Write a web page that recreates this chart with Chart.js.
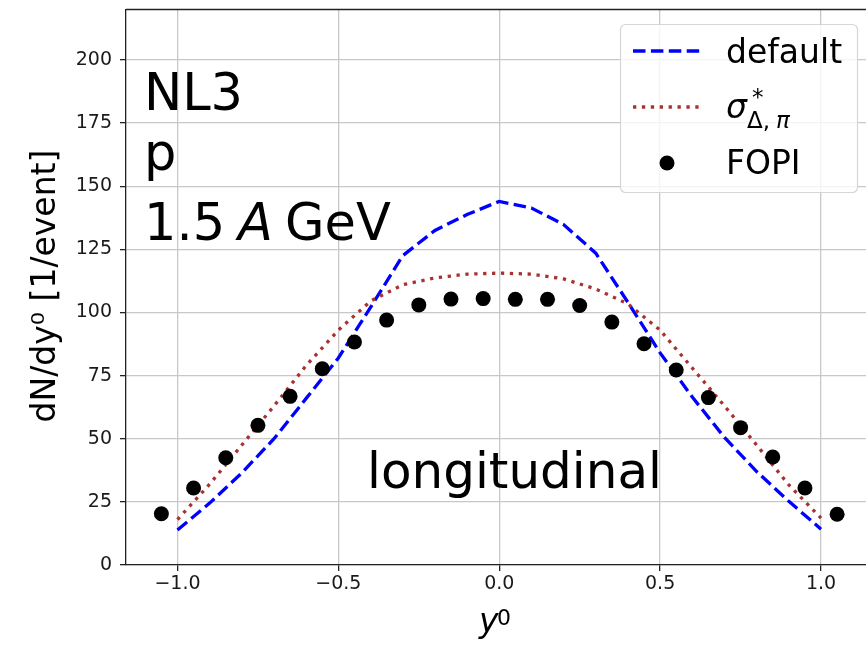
<!DOCTYPE html>
<html>
<head>
<meta charset="utf-8">
<script src="https://cdn.jsdelivr.net/npm/chart.js@4.4.1/dist/chart.umd.min.js"></script>
<style>
  html, body { margin: 0; padding: 0; overflow: hidden; background: #fff; }
  #wrap { width: 880px; height: 646px; }
</style>
</head>
<body>
<div id="wrap"><canvas id="rapidityChart" width="880" height="646"></canvas></div>
<script>
// model curves (transport calc.)
const rapidityModel = [-1.0, -0.9, -0.8, -0.7, -0.6, -0.5, -0.4, -0.3, -0.2, -0.1, 0.0, 0.1, 0.2, 0.3, 0.4, 0.5, 0.6, 0.7, 0.8, 0.9, 1.0];
const defaultValues = [13.9, 24.5, 36.5, 50, 66, 82, 102, 122.5, 132.5, 138.8, 144, 141.4, 134.8, 123.5, 104, 84, 66.5, 50.5, 37, 25.2, 14.2];
const sigmaValues = [18, 32, 47.5, 63, 79, 93, 104.5, 111, 113.7, 115.2, 115.6, 115.2, 113.3, 109.3, 103.4, 93, 78, 63, 47.5, 31.7, 18.6];

// FOPI data
const rapidityFopi = [-1.05, -0.95, -0.85, -0.75, -0.65, -0.55, -0.45, -0.35, -0.25, -0.15, -0.05, 0.05, 0.15, 0.25, 0.35, 0.45, 0.55, 0.65, 0.75, 0.85, 0.95, 1.05];
const fopiValues = [20.3, 30.5, 42.5, 55.3, 66.8, 77.7, 88.3, 97, 103, 105.3, 105.5, 105.2, 105.2, 102.8, 96.2, 87.6, 77.2, 66.3, 54.4, 42.8, 30.5, 20.1];

const xTicks = [-1.0, -0.5, 0.0, 0.5, 1.0];
const yTicks = [0, 25, 50, 75, 100, 125, 150, 175, 200];

const FONT = '"DejaVu Sans", sans-serif';

function toPoints(xs, ys) {
  return xs.map((x, i) => ({ x: x, y: ys[i] }));
}

const overlay = {
  id: 'overlay',
  afterDraw(chart) {
    const { ctx, chartArea: a } = chart;
    const ds = chart.data.datasets;
    ctx.save();

    // top spine
    ctx.strokeStyle = '#222';
    ctx.lineWidth = 1.3;
    ctx.beginPath();
    ctx.moveTo(a.left, a.top);
    ctx.lineTo(a.right, a.top);
    ctx.stroke();

    ctx.fillStyle = '#000';
    ctx.textAlign = 'left';
    ctx.textBaseline = 'alphabetic';

    // text in the upper left
    ctx.font = '51px ' + FONT;
    ctx.fillText('NL3', a.left + 18, 110);
    ctx.fillText('p', a.left + 18, 170);
    ctx.fillText('1.5', a.left + 18, 240);
    ctx.font = 'italic 51px ' + FONT;
    ctx.fillText('A', a.left + 112, 240);
    ctx.font = '51px ' + FONT;
    ctx.fillText('GeV', a.left + 159, 240);

    ctx.font = '50px ' + FONT;
    ctx.fillText('longitudinal', 367, 488);

    // axis titles
    ctx.font = 'italic 33px ' + FONT;
    ctx.fillText('y', 479, 632);
    ctx.font = '22px ' + FONT;
    ctx.fillText('0', 497, 625);

    ctx.save();
    ctx.translate(55, 286);
    ctx.rotate(-Math.PI / 2);
    ctx.textAlign = 'center';
    ctx.font = '33px ' + FONT;
    ctx.fillText('dN/dy\u2070 [1/event]', 0, 0);
    ctx.restore();

    // legend
    const bx = 620.5, by = 24.5, bw = 237, bh = 168;
    ctx.beginPath();
    ctx.roundRect(bx, by, bw, bh, 5);
    ctx.fillStyle = 'rgba(255,255,255,0.8)';
    ctx.fill();
    ctx.strokeStyle = '#d6d6d6';
    ctx.lineWidth = 1.2;
    ctx.stroke();

    const rows = [51, 107, 163];
    [0, 1].forEach(i => {
      ctx.beginPath();
      ctx.strokeStyle = ds[i].borderColor;
      ctx.lineWidth = ds[i].borderWidth;
      ctx.setLineDash(ds[i].borderDash);
      ctx.moveTo(633, rows[i]);
      ctx.lineTo(702, rows[i]);
      ctx.stroke();
    });
    ctx.setLineDash([]);
    ctx.beginPath();
    ctx.fillStyle = ds[2].backgroundColor;
    ctx.arc(667, rows[2], ds[2].pointRadius, 0, Math.PI * 2);
    ctx.fill();

    ctx.fillStyle = '#000';
    ctx.font = '33px ' + FONT;
    ctx.fillText(ds[0].label, 726, 63);
    ctx.fillText(ds[2].label, 726, 174);
    // sigma*_{Delta,pi}
    ctx.font = 'italic 33px ' + FONT;
    ctx.fillText('\u03c3', 726, 118);
    ctx.font = '23px ' + FONT;
    ctx.fillText('*', 752, 105);
    ctx.fillText('\u0394,', 747, 128);
    ctx.font = 'italic 23px ' + FONT;
    ctx.fillText('\u03c0', 776, 128);

    ctx.restore();
  }
};

new Chart(document.getElementById('rapidityChart'), {
  type: 'scatter',
  data: {
    datasets: [{
      label: 'default',
      data: toPoints(rapidityModel, defaultValues),
      showLine: true,
      borderColor: '#0000ff',
      borderWidth: 3.3,
      borderDash: [12.5, 5.4],
      pointRadius: 0,
      fill: false,
      order: 2
    }, {
      label: 'sigma',
      data: toPoints(rapidityModel, sigmaValues),
      showLine: true,
      borderColor: '#a83232',
      borderWidth: 3.3,
      borderDash: [3.3, 5.6],
      pointRadius: 0,
      fill: false,
      order: 1
    }, {
      label: 'FOPI',
      data: toPoints(rapidityFopi, fopiValues),
      showLine: false,
      backgroundColor: '#000',
      borderWidth: 0,
      pointRadius: 7.5,
      order: 0
    }]
  },
  options: {
    responsive: false,
    animation: false,
    layout: { padding: { left: 0, top: 9.5, right: 2, bottom: 0 } },
    plugins: {
      legend: { display: false },
      tooltip: { enabled: false }
    },
    scales: {
      x: {
        type: 'linear',
        min: -1.16,
        max: 1.16,
        afterBuildTicks: s => { s.ticks = xTicks.map(v => ({ value: v })); },
        afterFit: s => { s.height = 81; s.paddingLeft = 0; s.paddingRight = 0; },
        ticks: {
          callback: v => v.toFixed(1).replace('-', '\u2212'),
          font: { family: FONT, size: 19 },
          color: '#1a1a1a',
          padding: 2,
          maxRotation: 0,
          autoSkip: false
        },
        grid: { color: '#c8c8c8', lineWidth: 1.3, tickLength: 6, tickColor: '#222', tickWidth: 1.3 },
        border: { color: '#222', width: 1.3 }
      },
      y: {
        type: 'linear',
        min: 0,
        max: 220,
        afterBuildTicks: s => { s.ticks = yTicks.map(v => ({ value: v })); },
        afterFit: s => { s.width = 126; s.paddingTop = 0; s.paddingBottom = 0; },
        ticks: {
          font: { family: FONT, size: 19 },
          color: '#1a1a1a',
          padding: 8,
          autoSkip: false
        },
        grid: { color: '#c8c8c8', lineWidth: 1.3, tickLength: 6, tickColor: '#222', tickWidth: 1.3 },
        border: { color: '#222', width: 1.3 }
      }
    }
  },
  plugins: [overlay]
});
</script>
</body>
</html>
